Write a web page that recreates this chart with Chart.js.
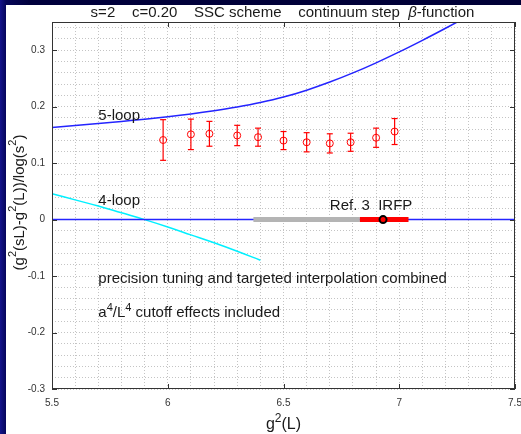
<!DOCTYPE html>
<html>
<head>
<meta charset="utf-8">
<script src="https://cdn.jsdelivr.net/npm/chart.js@4.4.1/dist/chart.umd.min.js"></script>
<style>
  html, body { margin: 0; padding: 0; }
  body {
    width: 521px; height: 434px; overflow: hidden; position: relative;
    background: linear-gradient(to right, #14148c 0px, #06065a 6px, #00003c 30px, #000036 100%);
  }
  #wrap { position: absolute; left: 6px; top: 5px; width: 515px; height: 429px; background: #fff; }
</style>
</head>
<body>
<div id="wrap"><canvas id="beta-chart" width="515" height="429"></canvas></div>
<script>
// measured points with errors
const gL      = [5.98, 6.10, 6.18, 6.30, 6.39, 6.50, 6.60, 6.70, 6.79, 6.90, 6.98];
const betaVal = [0.141, 0.151, 0.152, 0.149, 0.146, 0.140, 0.137, 0.135, 0.137, 0.145, 0.156];
const betaErr = [0.036, 0.027, 0.022, 0.018, 0.016, 0.016, 0.017, 0.017, 0.016, 0.017, 0.023];

// perturbative curves
const loop5X = [5.5, 5.6, 5.7, 5.8, 5.9, 6.0, 6.1, 6.2, 6.3, 6.4, 6.5, 6.6, 6.7, 6.8, 6.9, 7.0, 7.1, 7.2, 7.3];
const loop5Y = [0.1630, 0.1665, 0.1701, 0.1739, 0.1779, 0.1822, 0.1871, 0.1928, 0.1994, 0.2073, 0.2170, 0.2292,
                0.2436, 0.2598, 0.2777, 0.2970, 0.3175, 0.3389, 0.3610];
const loop4X = [5.5, 5.6, 5.7, 5.8, 5.9, 6.0, 6.1, 6.2, 6.3, 6.4];
const loop4Y = [0.046, 0.035, 0.024, 0.012, 0.000, -0.013, -0.027, -0.041, -0.056, -0.072];

// Ref. 3 range and IRFP
const ref3Range = [6.37, 6.83];
const irfpRange = [6.83, 7.04];
const irfpX = 6.93;

// axes
const xMajor = [5.5, 6, 6.5, 7, 7.5];
const xLabels = ['5.5', '6', '6.5', '7', '7.5'];
const yMajor = [-0.3, -0.2, -0.1, 0, 0.1, 0.2, 0.3];
const yLabels = ['-0.3', '-0.2', '-0.1', '0', '0.1', '0.2', '0.3'];

const FONT = "'Liberation Sans', Arial, Helvetica, sans-serif";
const AXIS = '#333333';
const TXT = '#1a1a1a';

function gridValues(from, to, step) {
  const out = [];
  const n = Math.round((to - from) / step);
  for (let k = 0; k <= n; k++) out.push(Math.round((from + k * step) * 1e6) / 1e6);
  return out;
}
function majorLabel(v, majors, labels) {
  const i = majors.findIndex(m => Math.abs(m - v) < 1e-6);
  return i >= 0 ? labels[i] : '';
}

// text with superscripts: parts are [text, sup, italic]
function setFont(ctx, size, sup, italic) {
  ctx.font = (italic ? 'italic ' : '') + (sup ? Math.round(size * 0.72) : size) + 'px ' + FONT;
}
function drawRich(ctx, parts, x, y, size, center) {
  let w = 0;
  parts.forEach(([t, sup, it]) => { setFont(ctx, size, sup, it); w += ctx.measureText(t).width; });
  let cx = center ? x - w / 2 : x;
  parts.forEach(([t, sup, it]) => {
    setFont(ctx, size, sup, it);
    ctx.fillText(t, cx, sup ? y - size * 0.42 : y);
    cx += ctx.measureText(t).width;
  });
}

const pts = gL.map((x, i) => ({x: x, y: betaVal[i]}));
const errSegs = [];
gL.forEach((x, i) => {
  errSegs.push({x: x, y: betaVal[i] - betaErr[i]}, {x: x, y: betaVal[i] + betaErr[i]}, {x: x, y: null});
});

const titleParts = [['s=2    c=0.20    SSC scheme    continuum step  ', 0, 0], ['\u03b2', 0, 1], ['-function', 0, 0]];
const xTitleParts = [['g', 0], ['2', 1], ['(L)', 0]];
const yTitleParts = [['(g', 0], ['2', 1], ['(sL)-g', 0], ['2', 1], ['(L))/log(s', 0], ['2', 1], [')', 0]];
const notes = [
  {parts: [['5-loop', 0]], x: 5.7, y: 0.177},
  {parts: [['4-loop', 0]], x: 5.7, y: 0.0265},
  {parts: [['Ref. 3  IRFP', 0]], x: 6.70, y: 0.0165},
  {parts: [['precision tuning and targeted interpolation combined', 0]], x: 5.7, y: -0.113},
  {parts: [['a', 0], ['4', 1], ['/L', 0], ['4', 1], [' cutoff effects included', 0]], x: 5.7, y: -0.173}
];

const framePlugin = {
  id: 'frame',
  afterDatasetsDraw(chart) {
    const ctx = chart.ctx;
    const {left, right, top, bottom} = chart.chartArea;
    const xs = chart.scales.x, ys = chart.scales.y;
    ctx.save();
    ctx.strokeStyle = AXIS;
    ctx.lineWidth = 1;
    ctx.beginPath();
    xMajor.forEach(v => {
      const p = Math.round(xs.getPixelForValue(v)) + 0.5;
      ctx.moveTo(p, bottom); ctx.lineTo(p, bottom - 5);
      ctx.moveTo(p, top); ctx.lineTo(p, top + 5);
    });
    yMajor.forEach(v => {
      const p = Math.round(ys.getPixelForValue(v)) + 0.5;
      ctx.moveTo(left, p); ctx.lineTo(left + 5, p);
      ctx.moveTo(right, p); ctx.lineTo(right - 5, p);
    });
    ctx.stroke();
    ctx.strokeRect(Math.round(left) + 0.5, Math.round(top) + 0.5, Math.round(right - left) - 1, Math.round(bottom - top) - 1);

    ctx.fillStyle = TXT;
    ctx.textAlign = 'left';
    ctx.textBaseline = 'alphabetic';
    notes.forEach(n => drawRich(ctx, n.parts, xs.getPixelForValue(n.x), ys.getPixelForValue(n.y), 15, false));

    // chart title
    drawRich(ctx, titleParts, (left + right) / 2 - 1, 12.3, 15, true);

    // axis titles
    ctx.textBaseline = 'middle';
    drawRich(ctx, xTitleParts, (left + right) / 2, 420, 16, true);
    ctx.translate(13.5, (top + bottom) / 2 - 3);
    ctx.rotate(-Math.PI / 2);
    drawRich(ctx, yTitleParts, 0, 0, 15, true);
    ctx.restore();
  }
};

new Chart(document.getElementById('beta-chart'), {
  type: 'scatter',
  data: {
    datasets: [
      {
        // IRFP marker
        data: [{x: irfpX, y: 0}],
        pointRadius: 3.5, pointBorderWidth: 2,
        pointBorderColor: '#000000', pointBackgroundColor: '#ff0000',
        order: 0
      },
      {
        data: irfpRange.map(x => ({x: x, y: 0})),
        showLine: true, borderColor: '#ff0000', borderWidth: 5, borderCapStyle: 'butt',
        pointRadius: 0, order: 1
      },
      {
        data: ref3Range.map(x => ({x: x, y: 0})),
        showLine: true, borderColor: '#b4b4b4', borderWidth: 5, borderCapStyle: 'butt',
        pointRadius: 0, order: 2
      },
      {
        data: [{x: 5.5, y: 0}, {x: 7.5, y: 0}],
        showLine: true, borderColor: '#2424ff', borderWidth: 1.5,
        pointRadius: 0, order: 3
      },
      {
        data: pts,
        pointStyle: 'circle', pointRadius: 3.5, pointBorderWidth: 1,
        pointBorderColor: '#ff0000', pointBackgroundColor: 'rgba(0,0,0,0)',
        order: 4
      },
      {
        data: errSegs,
        showLine: true, borderColor: '#ff0000', borderWidth: 1.2,
        pointStyle: 'line', pointRadius: 3, pointBorderWidth: 1.2,
        pointBorderColor: '#ff0000', pointBackgroundColor: '#ff0000',
        order: 5
      },
      {
        data: loop5X.map((x, i) => ({x: x, y: loop5Y[i]})),
        showLine: true, borderColor: '#2424ff', borderWidth: 1.5, tension: 0.4,
        pointRadius: 0, clip: 0, order: 6
      },
      {
        data: loop4X.map((x, i) => ({x: x, y: loop4Y[i]})),
        showLine: true, borderColor: '#00f0ff', borderWidth: 1.5, tension: 0.4,
        pointRadius: 0, clip: 0, order: 7
      }
    ]
  },
  options: {
    responsive: false,
    animation: false,
    events: [],
    layout: {padding: {left: 0, right: 6, top: 17, bottom: 0}},
    plugins: {
      legend: {display: false},
      tooltip: {enabled: false},
      title: {display: false}
    },
    scales: {
      x: {
        type: 'linear', min: 5.5, max: 7.5,
        afterBuildTicks: s => { s.ticks = gridValues(5.5, 7.5, 0.1).map(v => ({value: v})); },
        afterFit: s => { s.height = 45; s.paddingLeft = 0; s.paddingRight = 0; },
        ticks: {
          autoSkip: false, maxRotation: 0, padding: 8, color: AXIS,
          font: {family: FONT, size: 10},
          callback: v => majorLabel(v, xMajor, xLabels)
        },
        grid: {color: '#c4c4c4', drawTicks: false, lineWidth: 1},
        border: {display: false, dash: [1, 2]}
      },
      y: {
        type: 'linear', min: -0.3, max: 0.35,
        afterBuildTicks: s => { s.ticks = gridValues(-0.3, 0.34, 0.02).map(v => ({value: v})); },
        afterFit: s => { s.width = 46; s.paddingTop = 0; s.paddingBottom = 0; },
        ticks: {
          autoSkip: false, padding: 7, color: AXIS,
          font: {family: FONT, size: 10},
          callback: v => majorLabel(v, yMajor, yLabels)
        },
        grid: {color: '#c4c4c4', drawTicks: false, lineWidth: 1},
        border: {display: false, dash: [1, 2]}
      }
    }
  },
  plugins: [framePlugin]
});
</script>
</body>
</html>
